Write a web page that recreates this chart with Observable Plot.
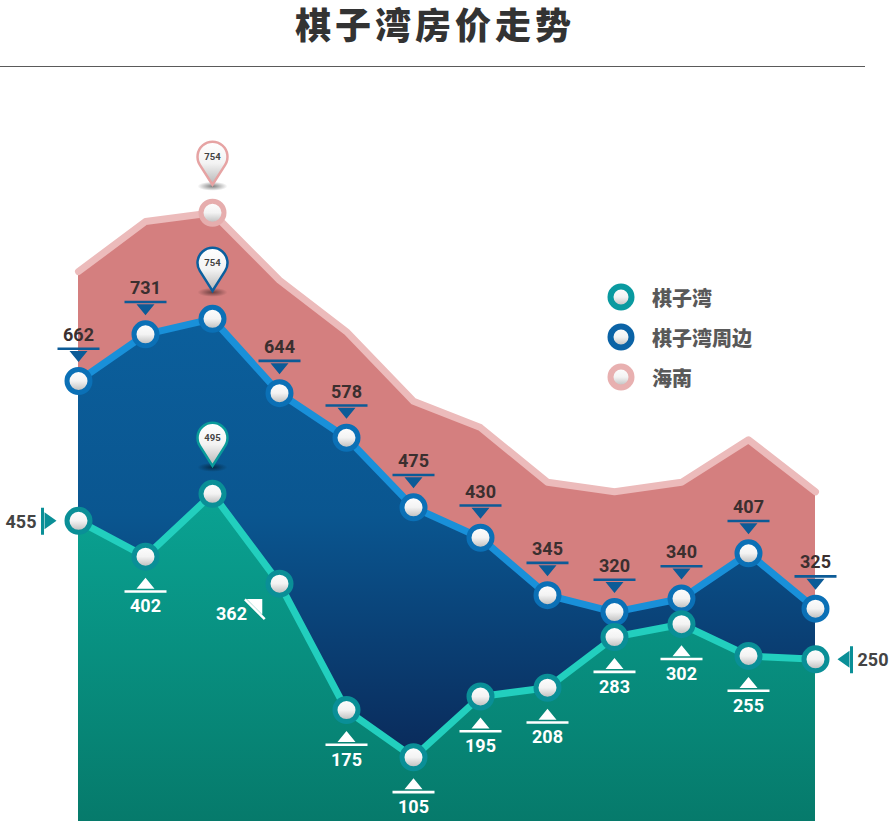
<!DOCTYPE html>
<html><head><meta charset="utf-8">
<script src="https://cdn.jsdelivr.net/npm/d3@7"></script>
<script src="https://cdn.jsdelivr.net/npm/@observablehq/plot@0.6"></script>
<style>
html,body{margin:0;padding:0;background:#fff;overflow:hidden;}
#wrap{position:relative;width:889px;height:821px;}
#title{position:absolute;left:0;top:0;width:870px;text-align:center;font-family:'Noto Sans CJK SC',sans-serif;font-weight:900;font-size:36px;letter-spacing:4px;color:#333;line-height:46px;white-space:nowrap;}
#rule{position:absolute;left:0;top:66px;width:865px;height:1px;background:#5a5a5a;}
#chart{position:absolute;left:0;top:67px;}
#legend{position:absolute;left:606px;top:277px;}
.item{display:flex;align-items:center;height:40px;}
.item span{margin-left:16px;font-family:'Noto Sans CJK SC',sans-serif;font-weight:900;font-size:20px;color:#595959;}
</style></head>
<body>
<svg width="0" height="0" style="position:absolute">
<defs>
<linearGradient id="tealGrad" gradientUnits="userSpaceOnUse" x1="0" y1="420" x2="0" y2="754">
<stop offset="0" stop-color="#0aa494"/><stop offset="1" stop-color="#067a6b"/></linearGradient>
<linearGradient id="blueGrad" gradientUnits="userSpaceOnUse" x1="0" y1="250" x2="0" y2="690">
<stop offset="0" stop-color="#0b5f9c"/><stop offset="0.45" stop-color="#0a5690"/><stop offset="1" stop-color="#0a2a5a"/></linearGradient>
<linearGradient id="ballGrad" x1="0" y1="0" x2="0" y2="1">
<stop offset="0" stop-color="#ffffff"/><stop offset="0.5" stop-color="#f3f3f3"/><stop offset="1" stop-color="#b5b5b5"/></linearGradient>
<radialGradient id="shadowGrad" cx="0.5" cy="0.5" r="0.5">
<stop offset="0" stop-color="#000" stop-opacity="0.5"/><stop offset="1" stop-color="#000" stop-opacity="0"/></radialGradient>
</defs></svg>
<div id="wrap">
<div id="title">棋子湾房价走势</div>
<div id="rule"></div>
<div id="chart"></div>
<div id="legend"></div>
</div>
<script>
// ---- data ----
const periods = ["1","2","3","4","5","6","7","8","9","10","11","12"];
const qiziwan = [455,402,495,362,175,105,195,208,283,302,255,250];
const zhoubian = [662,731,754,644,578,475,430,345,320,340,407,325];
const hainan = [824,898,911,811,735,632,593,512,498,512,575,498];
const hainanPinText = "754";
const seriesNames = ["棋子湾","棋子湾周边","海南"];
const seriesRing = ["#0a9aa0","#0b63a6","#e8b0b0"];

const rows = periods.map((p,i)=>({p, q:qiziwan[i], z:zhoubian[i], h:hainan[i], i}));
const tealBelow = rows.filter(d=>[1,4,5,6,7,8,9,10].includes(d.i));
const tealLeft = rows.filter(d=>d.i===0);
const tealRight = rows.filter(d=>d.i===11);
const tealDiag = rows.filter(d=>d.i===3);
const tealPin = rows.filter(d=>d.i===2);
const blueAbove = rows.filter(d=>d.i!==2);
const bluePin = rows.filter(d=>d.i===2);
const pinkPin = rows.filter(d=>d.i===2);

// ---- symbols ----
const sym = fn => ({draw(c){fn(c);}});
const upMarker = sym(c=>{c.moveTo(0,21);c.lineTo(9,32);c.lineTo(-9,32);c.closePath();c.rect(-21,33.5,42,2.6);});
const downMarker = sym(c=>{c.moveTo(0,-19);c.lineTo(9,-30);c.lineTo(-9,-30);c.closePath();c.rect(-21,-33.6,42,2.6);});
const leftMarker = sym(c=>{c.moveTo(-22,0);c.lineTo(-34,-8.5);c.lineTo(-34,8.5);c.closePath();c.rect(-37.5,-13,3,27);});
const rightMarker = sym(c=>{c.moveTo(22,0);c.lineTo(34,-8.5);c.lineTo(34,8.5);c.closePath();c.rect(34.5,-13,3,27);});
const diagMarker = sym(c=>{
  const bx=-25, by=23, u=[Math.SQRT1_2,-Math.SQRT1_2], v=[Math.SQRT1_2,Math.SQRT1_2];
  const P=(a,b)=>[bx+a*u[0]+b*v[0], by+a*u[1]+b*v[1]];
  let p=P(11,0); c.moveTo(...p); p=P(0,11); c.lineTo(...p); p=P(0,-11); c.lineTo(...p); c.closePath();
  const q=[P(-0.3,-12),P(-0.3,16),P(-2.8,16),P(-2.8,-12)];
  c.moveTo(...q[0]); c.lineTo(...q[1]); c.lineTo(...q[2]); c.lineTo(...q[3]); c.closePath();
});
const pinShape = sym(c=>{
  const cy=-56, r=15, tip=-28, a=Math.acos(r/(tip-cy));
  c.moveTo(0,tip); c.arc(0,cy,r,Math.PI/2+a,Math.PI/2-a+2*Math.PI,false); c.closePath();
});
const pinShadow = sym(c=>{c.rect(-15,-31,30,9);});

const num = {fontFamily:"Roboto, sans-serif", fontWeight:"bold", fontSize:18};

function pinMarks(data, yKey, color, textFn){
  return [
    Plot.dot(data,{x:"p", y:yKey, symbol:pinShadow, fill:"url(#shadowGrad)", stroke:"none"}),
    Plot.dot(data,{x:"p", y:yKey, symbol:pinShape, fill:"url(#ballGrad)", stroke:color, strokeWidth:2.5}),
    Plot.text(data,{x:"p", y:yKey, text:textFn, dy:-56, fill:"#444", fontFamily:"Roboto, sans-serif", fontWeight:"bold", fontSize:9.5})
  ];
}

const chart = Plot.plot({
  width: 889, height: 754,
  marginLeft: 77, marginRight: 73, marginTop: 0, marginBottom: 0,
  style: {background:"transparent", overflow:"visible"},
  x: {type:"point", domain: periods, padding: 0, axis: null},
  y: {domain: [10, 1126], axis: null},
  marks: [
    Plot.areaY(rows,{x:"p", y1:10, y2:"h", fill:"#d47f7f"}),
    Plot.line(rows,{x:"p", y:"h", stroke:"#ecbbbb", strokeWidth:7, strokeLinejoin:"round"}),
    Plot.areaY(rows,{x:"p", y1:10, y2:"z", fill:"url(#blueGrad)"}),
    Plot.line(rows,{x:"p", y:"z", stroke:"#1990d9", strokeWidth:7, strokeLinejoin:"round"}),
    Plot.areaY(rows,{x:"p", y1:10, y2:"q", fill:"url(#tealGrad)"}),
    Plot.line(rows,{x:"p", y:"q", stroke:"#22cfbe", strokeWidth:7, strokeLinejoin:"round"}),
    // blue labels
    Plot.dot(blueAbove,{x:"p", y:"z", symbol:downMarker, fill:"#0c5b97", stroke:"none"}),
    Plot.text(blueAbove,{x:"p", y:"z", text:d=>String(d.z), dy:-46, fill:"#3b2f2f", ...num}),
    // teal labels
    Plot.dot(tealBelow,{x:"p", y:"q", symbol:upMarker, fill:"#fff", stroke:"none"}),
    Plot.text(tealBelow,{x:"p", y:"q", text:d=>String(d.q), dy:50, fill:"#fff", ...num}),
    Plot.dot(tealLeft,{x:"p", y:"q", symbol:leftMarker, fill:"#0a8f97", stroke:"none"}),
    Plot.text(tealLeft,{x:"p", y:"q", text:d=>String(d.q), dx:-42, dy:1, textAnchor:"end", fill:"#444", ...num}),
    Plot.dot(tealRight,{x:"p", y:"q", symbol:rightMarker, fill:"#0a8f97", stroke:"none"}),
    Plot.text(tealRight,{x:"p", y:"q", text:d=>String(d.q), dx:42, dy:1, textAnchor:"start", fill:"#444", ...num}),
    Plot.dot(tealDiag,{x:"p", y:"q", symbol:diagMarker, fill:"#fff", stroke:"none"}),
    Plot.text(tealDiag,{x:"p", y:"q", text:d=>String(d.q), dx:-48, dy:31, fill:"#fff", ...num}),
    // markers
    Plot.dot(rows,{x:"p", y:"z", r:11.5, fill:"url(#ballGrad)", stroke:"#0b70b6", strokeWidth:5}),
    Plot.dot(rows,{x:"p", y:"q", r:11.5, fill:"url(#ballGrad)", stroke:"#0a8f97", strokeWidth:5}),
    Plot.dot(pinkPin,{x:"p", y:"h", r:11.5, fill:"url(#ballGrad)", stroke:"#e6adad", strokeWidth:5}),
    // pins
    ...pinMarks(pinkPin, "h", "#e6a3a3", ()=>hainanPinText),
    ...pinMarks(bluePin, "z", "#0b5f9e", d=>String(d.z)),
    ...pinMarks(tealPin, "q", "#0a9a9a", d=>String(d.q))
  ]
});
document.getElementById("chart").appendChild(chart);

// legend
const leg = document.getElementById("legend");
seriesNames.forEach((n,i)=>{
  const it = document.createElement("div"); it.className="item";
  it.innerHTML = `<svg width="30" height="30"><circle cx="15" cy="15" r="10.5" fill="url(#ballGrad)" stroke="${seriesRing[i]}" stroke-width="6"/></svg><span>${n}</span>`;
  leg.appendChild(it);
});
</script>
</body></html>
